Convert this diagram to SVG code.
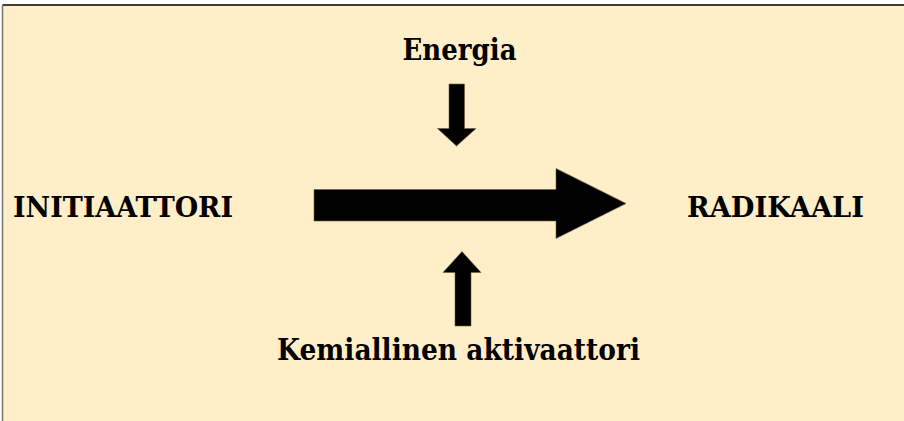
<svg xmlns="http://www.w3.org/2000/svg" width="904" height="421" viewBox="0 0 904 421">
<style>
.lbl{font-family:"DejaVu Serif","Liberation Serif",serif;font-weight:bold;fill:#000;text-anchor:middle}
.arr{fill:#000;stroke:#6b5a3a;stroke-width:0.6}
</style>
<rect x="0" y="0" width="904" height="421" fill="#ffffff"/>
<rect x="2.5" y="5" width="902" height="417" fill="#ffefc9"/>
<line x1="2.5" y1="5" x2="904" y2="5" stroke="#000" stroke-width="1.5"/>
<line x1="2.5" y1="5" x2="2.5" y2="421" stroke="#777" stroke-width="1.5"/>
<g id="connectors">
<polygon class="arr" points="314,189.5 556,189.5 556,168.5 626,203.5 556,238.5 556,221 314,221"/>
<polygon class="arr" points="449,84 464.5,84 464.5,128.5 476,128.5 456.5,146 437.5,128.5 449,128.5"/>
<polygon class="arr" points="455,326 471,326 471,272.5 481,272.5 462,251.5 443,272.5 455,272.5"/>
</g>
<g id="initiaattori"><text class="lbl" x="123" y="217" font-size="27" textLength="220" lengthAdjust="spacingAndGlyphs">INITIAATTORI</text></g>
<g id="radikaali"><text class="lbl" x="775.5" y="217" font-size="27" textLength="177" lengthAdjust="spacingAndGlyphs">RADIKAALI</text></g>
<g id="energia"><text class="lbl" x="459.5" y="59.5" font-size="30" textLength="114" lengthAdjust="spacingAndGlyphs">Energia</text></g>
<g id="aktivaattori"><text class="lbl" x="458.5" y="360" font-size="30" textLength="363" lengthAdjust="spacingAndGlyphs">Kemiallinen aktivaattori</text></g>
</svg>
